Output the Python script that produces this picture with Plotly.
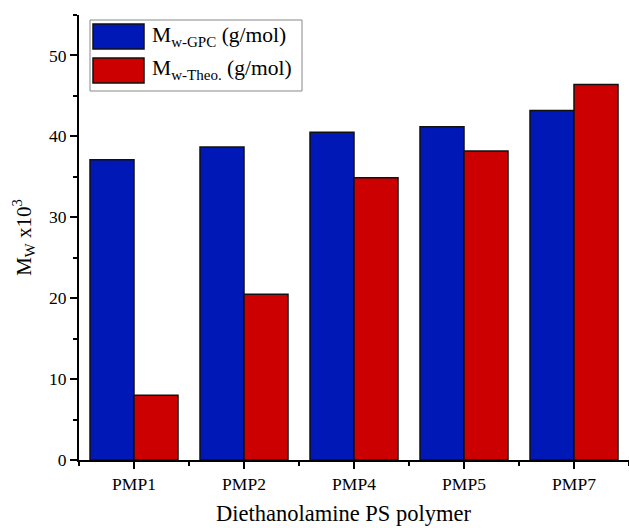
import plotly.graph_objects as go

categories = ["PMP1", "PMP2", "PMP4", "PMP5", "PMP7"]
mw_gpc = [37.1, 38.7, 40.5, 41.2, 43.2]
mw_theo = [8.0, 20.5, 34.9, 38.2, 46.4]
y_ticks = [0, 10, 20, 30, 40, 50]

FONT = "Liberation Serif, Times New Roman, serif"
BLUE = "#0019B6"
RED = "#CC0000"

xpos = list(range(len(categories)))

fig = go.Figure()
fig.add_trace(go.Bar(x=xpos, y=mw_gpc, name="Mw-GPC", marker=dict(color=BLUE, line=dict(color="#111", width=1.5))))
fig.add_trace(go.Bar(x=xpos, y=mw_theo, name="Mw-Theo", marker=dict(color=RED, line=dict(color="#111", width=1.5))))

L, R, T, B = 79, 0, 15, 68
W, H = 629, 528
pw, ph = W - L - R, H - T - B

def px(x):
    return (x - L) / pw

def py(y):
    return (H - B - y) / ph

shapes = [
    dict(type="rect", xref="paper", yref="paper", x0=px(90), x1=px(302), y0=py(91), y1=py(20),
         line=dict(color="#888", width=1), fillcolor="white", layer="above"),
    dict(type="rect", xref="paper", yref="paper", x0=px(93), x1=px(144), y0=py(49), y1=py(24),
         line=dict(color="#111", width=1.5), fillcolor=BLUE, layer="above"),
    dict(type="rect", xref="paper", yref="paper", x0=px(93), x1=px(144), y0=py(83), y1=py(58),
         line=dict(color="#111", width=1.5), fillcolor=RED, layer="above"),
]
annotations = [
    dict(xref="paper", yref="paper", x=px(150), y=py(37), xanchor="left", yanchor="middle", showarrow=False,
         text="M<sub>w-GPC</sub> (g/mol)", font=dict(family=FONT, size=21.5, color="black")),
    dict(xref="paper", yref="paper", x=px(150), y=py(70), xanchor="left", yanchor="middle", showarrow=False,
         text="M<sub>w-Theo.</sub> (g/mol)", font=dict(family=FONT, size=21.5, color="black")),
    dict(xref="paper", yref="paper", x=px(343.5), y=py(527), xanchor="center", yanchor="bottom", showarrow=False,
         text="Diethanolamine PS polymer", font=dict(family=FONT, size=22.5, color="black"),
         borderpad=0),
]

fig.update_layout(
    width=W, height=H,
    margin=dict(l=L, r=R, t=T, b=B),
    paper_bgcolor="white", plot_bgcolor="white",
    barmode="group", bargap=0.2, bargroupgap=0,
    showlegend=False,
    font=dict(family=FONT, size=17, color="black"),
    shapes=shapes, annotations=annotations,
    xaxis=dict(
        range=[-0.5, 4.5], tickvals=xpos, ticktext=categories,
        showline=True, linecolor="black", linewidth=2, showgrid=False, zeroline=False,
        ticks="outside", ticklen=7, tickwidth=2, tickcolor="black",
        minor=dict(tick0=0.5, dtick=1, ticks="outside", ticklen=4, tickwidth=2, tickcolor="black"),
        tickfont=dict(size=17.5),
    ),
    yaxis=dict(
        range=[0, 55], tickvals=y_ticks,
        showline=True, linecolor="black", linewidth=2, showgrid=False, zeroline=False,
        ticks="outside", ticklen=7, tickwidth=2, tickcolor="black",
        minor=dict(dtick=5, ticks="outside", ticklen=4, tickwidth=2, tickcolor="black"),
        title=dict(text="M<sub>W</sub> x10<sup>3</sup>", font=dict(family=FONT, size=21), standoff=12),
        tickfont=dict(size=17.5),
    ),
)

fig.write_html("out.html")
